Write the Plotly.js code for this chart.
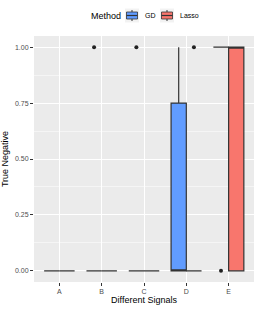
<!DOCTYPE html>
<html>
<head>
<meta charset="utf-8">
<script src="https://cdn.plot.ly/plotly-3.0.1.min.js"></script>
<style>html,body{margin:0;padding:0;background:#fff;}#chart{width:258px;height:309px;}</style>
</head>
<body>
<div id="chart"></div>
<script>
// Signals (categories) and raw 0/1 outcomes per method (sampled replicates)
var signals = ['A', 'B', 'C', 'D', 'E'];
var methods = ['GD', 'Lasso'];
var methodColors = ['#619CFF', '#F8766D'];
var gdA = [0, 0, 0, 0, 0, 0, 0];
var gdB = [0, 0, 0, 0, 0, 0, 1];
var gdC = [0, 0, 0, 0, 0, 0, 1];
var gdD = [0, 0, 0, 0, 0, 1, 1];
var gdE = [0, 1, 1, 1, 1, 1, 1];
var lassoA = [0, 0, 0, 0, 0, 0, 0];
var lassoB = [0, 0, 0, 0, 0, 0, 0];
var lassoC = [0, 0, 0, 0, 0, 0, 0];
var lassoD = [0, 0, 0, 0, 0, 0, 1];
var lassoE = [0, 0, 0, 1, 1, 1, 1];
var yTicks = [0, 0.25, 0.5, 0.75, 1];
var yTickText = ['0.00', '0.25', '0.50', '0.75', '1.00'];

function flatten(groups) {
  var xs = [], ys = [];
  groups.forEach(function (g, i) {
    g.forEach(function (v) { xs.push(signals[i]); ys.push(v); });
  });
  return {x: xs, y: ys};
}
var series = [flatten([gdA, gdB, gdC, gdD, gdE]), flatten([lassoA, lassoB, lassoC, lassoD, lassoE])];

var data = series.map(function (d, i) {
  return {
    type: 'box', name: methods[i], x: d.x, y: d.y,
    fillcolor: methodColors[i],
    line: {color: '#333333', width: 1.2},
    marker: {color: '#222222', size: 4, line: {width: 0}},
    boxpoints: 'outliers', pointpos: 0, jitter: 0,
    whiskerwidth: 0, showlegend: false,
    hoverinfo: 'skip'
  };
});

// plot-area geometry (pixels) for placing the ggplot-style legend
var W = 258, H = 309, M = {l: 34, r: 4, t: 36, b: 27};
var pw = W - M.l - M.r, ph = H - M.t - M.b;
function px(x) { return (x - M.l) / pw; }
function py(y) { return (H - M.b - y) / ph; }

var shapes = [], annotations = [];
var legY = 15.5;
annotations.push({xref: 'paper', yref: 'paper', x: px(88.5), y: py(legY), xanchor: 'left', yanchor: 'middle',
  text: 'Method', showarrow: false, font: {size: 9, color: '#000'}});
var keyX = [125, 160], labX = [142.5, 177.5];
methods.forEach(function (m, i) {
  var k = keyX[i];
  shapes.push({type: 'rect', xref: 'paper', yref: 'paper', x0: px(k), x1: px(k + 14), y0: py(legY - 7), y1: py(legY + 7),
    fillcolor: '#F2F2F2', line: {width: 0}, layer: 'above'});
  shapes.push({type: 'line', xref: 'paper', yref: 'paper', x0: px(k + 7), x1: px(k + 7), y0: py(legY - 5.5), y1: py(legY + 5.5),
    line: {color: '#333333', width: 1}, layer: 'above'});
  shapes.push({type: 'rect', xref: 'paper', yref: 'paper', x0: px(k + 1.5), x1: px(k + 12.5), y0: py(legY - 3.5), y1: py(legY + 3.5),
    fillcolor: methodColors[i], line: {color: '#333333', width: 0.8}, layer: 'above'});
  shapes.push({type: 'line', xref: 'paper', yref: 'paper', x0: px(k + 1.5), x1: px(k + 12.5), y0: py(legY), y1: py(legY),
    line: {color: '#333333', width: 1.2}, layer: 'above'});
  annotations.push({xref: 'paper', yref: 'paper', x: px(labX[i]), y: py(legY), xanchor: 'left', yanchor: 'middle',
    text: m, showarrow: false, font: {size: 7, color: '#000'}});
});

var layout = {
  width: W, height: H,
  margin: M,
  paper_bgcolor: '#ffffff',
  plot_bgcolor: '#EBEBEB',
  boxmode: 'group', boxgap: 0.28, boxgroupgap: 0,
  font: {family: 'Liberation Sans, Arial, sans-serif', color: '#000'},
  showlegend: false,
  shapes: shapes,
  annotations: annotations,
  xaxis: {
    type: 'category', categoryorder: 'array', categoryarray: signals,
    range: [-0.6, 4.6],
    showgrid: true, gridcolor: '#ffffff', gridwidth: 1,
    zeroline: false, showline: false,
    ticks: 'outside', ticklen: 3, tickcolor: '#333333', tickwidth: 1,
    tickfont: {size: 7, color: '#4D4D4D'},
    title: {text: 'Different Signals', font: {size: 9, color: '#000'}, standoff: 2}
  },
  yaxis: {
    range: [-0.05, 1.05],
    tickvals: yTicks, ticktext: yTickText,
    showgrid: true, gridcolor: '#ffffff', gridwidth: 1,
    minor: {tickvals: [0.125, 0.375, 0.625, 0.875], showgrid: true, gridcolor: '#ffffff', gridwidth: 0.5, ticks: ''},
    zeroline: false, showline: false,
    ticks: 'outside', ticklen: 3, tickcolor: '#333333', tickwidth: 1,
    tickfont: {size: 7, color: '#4D4D4D'},
    title: {text: 'True Negative', font: {size: 9, color: '#000'}, standoff: 5}
  }
};

Plotly.newPlot('chart', data, layout, {displayModeBar: false, staticPlot: true});
</script>
</body>
</html>
